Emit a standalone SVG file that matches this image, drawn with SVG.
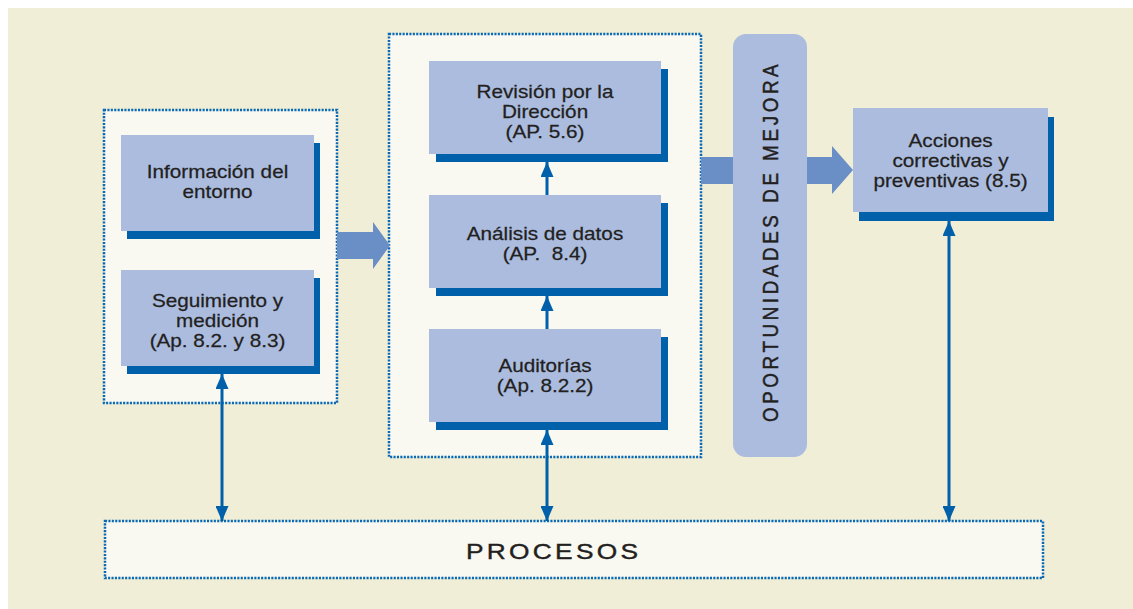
<svg xmlns="http://www.w3.org/2000/svg" width="1133" height="609" viewBox="0 0 1133 609">
<defs>
<style>
.bg{fill:#f0eed6}
.panel{fill:#f9f8f1;stroke:#0a69b4;stroke-width:2.5;stroke-dasharray:2.1 1.3}
.box{fill:#abbcdf}
.shadow{fill:#0060aa}
.big{fill:#6a8ec6}
.bar{fill:#abbcdf}
.lbl{font-family:"Liberation Sans",Arial,sans-serif;font-size:17.7px;fill:#231f20;stroke:#231f20;stroke-width:0.25;text-anchor:middle;white-space:pre}
.cap{font-family:"Liberation Sans",Arial,sans-serif;fill:#231f20;stroke:#231f20;stroke-width:0.4}
.conn{stroke:#0060aa;stroke-width:3;fill:none}
</style>
<marker id="ah" viewBox="0 0 15 13" refX="15" refY="6.5" markerWidth="15" markerHeight="13" markerUnits="userSpaceOnUse" orient="auto-start-reverse">
<path d="M0,0 L15,6.5 L0,13 Z" fill="#0060aa"/>
</marker>
</defs>
<rect x="8" y="8" width="1125" height="601" class="bg"/>

<g id="panel-left"><rect x="104" y="110" width="233" height="293" class="panel"/></g>
<g id="panel-center"><rect x="389" y="34" width="312" height="423" class="panel"/></g>
<g id="procesos">
<rect x="105" y="521" width="938" height="57" class="panel"/>
<text transform="translate(466,558.5) scale(1.17,1)" x="0" y="0" class="cap" style="font-size:22.5px;letter-spacing:2.8px">PROCESOS</text>
</g>

<g id="big-arrows">
<polygon class="big" points="337,232 373,232 373,222 390,245.5 373,269 373,259 337,259"/>
<polygon class="big" points="701,157 832,157 832,146 853,170 832,194 832,184 701,184"/>
</g>

<g id="oportunidades">
<rect x="733" y="34" width="74" height="423" rx="13" ry="13" class="bar"/>
<text transform="translate(777.5,422) scale(1.17,1) rotate(-90)" x="0" y="0" class="cap" style="font-size:18.8px;letter-spacing:3.6px">OPORTUNIDADES DE MEJORA</text>
</g>

<g id="info">
<rect x="127" y="143" width="193" height="96" class="shadow"/>
<rect x="121" y="135" width="193" height="96" class="box"/>
<text class="lbl" transform="translate(217.5,0) scale(1.17,1)"><tspan x="0" y="178.5">Información del</tspan><tspan x="0" y="198.5">entorno</tspan></text>
</g>

<g id="seguimiento">
<rect x="127" y="278" width="193" height="96" class="shadow"/>
<rect x="121" y="270" width="193" height="96" class="box"/>
<text class="lbl" transform="translate(217.5,0) scale(1.17,1)"><tspan x="0" y="307.5">Seguimiento y</tspan><tspan x="0" y="327">medición</tspan><tspan x="0" y="347">(Ap. 8.2. y 8.3)</tspan></text>
</g>

<g id="revision">
<rect x="436" y="69" width="232" height="93" class="shadow"/>
<rect x="429" y="61" width="232" height="93" class="box"/>
<text class="lbl" transform="translate(545,0) scale(1.17,1)"><tspan x="0" y="98.5">Revisión por la</tspan><tspan x="0" y="118.5">Dirección</tspan><tspan x="0" y="138">(AP. 5.6)</tspan></text>
</g>

<g id="analisis">
<rect x="436" y="203" width="232" height="93" class="shadow"/>
<rect x="429" y="195" width="232" height="93" class="box"/>
<text class="lbl" transform="translate(545,0) scale(1.17,1)"><tspan x="0" y="240.5">Análisis de datos</tspan><tspan x="0" y="260.5">(AP.  8.4)</tspan></text>
</g>

<g id="auditorias">
<rect x="436" y="337" width="232" height="93" class="shadow"/>
<rect x="429" y="329" width="232" height="93" class="box"/>
<text class="lbl" transform="translate(545,0) scale(1.17,1)"><tspan x="0" y="372">Auditorías</tspan><tspan x="0" y="392">(Ap. 8.2.2)</tspan></text>
</g>

<g id="acciones">
<rect x="859" y="117" width="195" height="104" class="shadow"/>
<rect x="853" y="108" width="195" height="104" class="box"/>
<text class="lbl" transform="translate(950.5,0) scale(1.17,1)"><tspan x="0" y="147">Acciones</tspan><tspan x="0" y="167">correctivas y</tspan><tspan x="0" y="187">preventivas (8.5)</tspan></text>
</g>

<g id="connectors">
<line x1="547" y1="195" x2="547" y2="162" class="conn" marker-end="url(#ah)"/>
<line x1="547" y1="329" x2="547" y2="296" class="conn" marker-end="url(#ah)"/>
<line x1="222" y1="374" x2="222" y2="521" class="conn" marker-start="url(#ah)" marker-end="url(#ah)"/>
<line x1="547" y1="430" x2="547" y2="521" class="conn" marker-start="url(#ah)" marker-end="url(#ah)"/>
<line x1="949" y1="221" x2="949" y2="521" class="conn" marker-start="url(#ah)" marker-end="url(#ah)"/>
</g>
</svg>
